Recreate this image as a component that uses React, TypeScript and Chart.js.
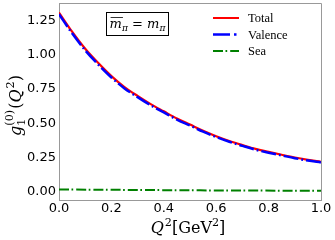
import React, { useEffect, useRef } from "react";
import { Chart, registerables } from "chart.js";

Chart.register(...registerables);

// ---- data ----
const q2 = [0, 0.05, 0.1, 0.15, 0.2, 0.25, 0.3, 0.35, 0.4, 0.45, 0.5, 0.55, 0.6, 0.65, 0.7, 0.75, 0.8, 0.85, 0.9, 0.95, 1.0];
const total = [1.31, 1.17, 1.045, 0.94, 0.845, 0.765, 0.70, 0.64, 0.587, 0.535, 0.49, 0.445, 0.405, 0.37, 0.34, 0.312, 0.29, 0.269, 0.249, 0.232, 0.217];
const valence = [1.298, 1.158, 1.034, 0.929, 0.835, 0.755, 0.691, 0.631, 0.579, 0.527, 0.483, 0.438, 0.399, 0.364, 0.334, 0.306, 0.284, 0.264, 0.244, 0.227, 0.213];
const q2Sea = [0, 0.25, 0.5, 0.75, 1.0];
const sea = [0.015, 0.012, 0.009, 0.007, 0.005];
const xTicks = [0, 0.2, 0.4, 0.6, 0.8, 1.0];
const yTicks = [0, 0.25, 0.5, 0.75, 1.0, 1.25];
const seriesLabels = ["Total", "Valence", "Sea"];
const seriesColors = ["#ff0000", "#0000ff", "#008000"];

type Part = { t: string; f: string; dy?: number; adv?: boolean; kern?: number };

function drawRich(ctx: CanvasRenderingContext2D, parts: Part[], cx: number, cy: number, rot: number) {
  ctx.save();
  ctx.translate(cx, cy);
  ctx.rotate(rot);
  ctx.textAlign = "left";
  ctx.textBaseline = "alphabetic";
  ctx.fillStyle = "#000";
  let total = 0;
  for (const p of parts) {
    ctx.font = p.f;
    if (p.adv !== false) total += ctx.measureText(p.t).width + (p.kern || 0);
  }
  let x = -total / 2;
  const starts: number[] = [];
  for (const p of parts) {
    ctx.font = p.f;
    starts.push(x);
    ctx.fillText(p.t, x, p.dy || 0);
    if (p.adv !== false) x += ctx.measureText(p.t).width + (p.kern || 0);
  }
  ctx.restore();
  return starts;
}

const SERIF = "'DejaVu Serif'";

const decorPlugin = {
  id: "decor",
  afterDraw(chart: any) {
    const ctx: CanvasRenderingContext2D = chart.ctx;
    const a = chart.chartArea;
    ctx.save();
    // top & right spines
    ctx.strokeStyle = "#999";
    ctx.lineWidth = 1;
    ctx.beginPath();
    ctx.moveTo(Math.round(a.left), Math.round(a.top) + 0.5);
    ctx.lineTo(Math.round(a.right) + 0.5, Math.round(a.top) + 0.5);
    ctx.lineTo(Math.round(a.right) + 0.5, Math.round(a.bottom));
    ctx.stroke();

    // annotation box
    ctx.fillStyle = "#fff";
    ctx.fillRect(106.5, 12.5, 62, 23);
    ctx.strokeStyle = "#000";
    ctx.strokeRect(106.5, 12.5, 62, 23);
    const s = 13;
    const annParts: Part[] = [
      { t: "m", f: `italic ${s}px ${SERIF}` },
      { t: "π", f: `italic ${s * 0.7}px ${SERIF}`, dy: 3 },
      { t: " = ", f: `${s}px ${SERIF}` },
      { t: "m", f: `italic ${s}px ${SERIF}` },
      { t: "π", f: `italic ${s * 0.7}px ${SERIF}`, dy: 3 },
    ];
    const base = 28;
    const st = drawRich(ctx, annParts, 137.5, base, 0);
    ctx.font = `italic ${s}px ${SERIF}`;
    const mw = ctx.measureText("m").width;
    ctx.strokeStyle = "#000";
    ctx.lineWidth = 0.8;
    ctx.beginPath();
    ctx.moveTo(137.5 + st[0] + 1, base - 10.5);
    ctx.lineTo(137.5 + st[0] + mw + 1, base - 10.5);
    ctx.stroke();

    // legend
    const rows = [18, 34.5, 51];
    const dashes = [[], [17, 4, 2.5, 4], [10, 2.5, 1.7, 3]];
    const widths = [2, 2.5, 2];
    for (let i = 0; i < 3; i++) {
      ctx.strokeStyle = seriesColors[i];
      ctx.lineWidth = widths[i];
      ctx.setLineDash(dashes[i]);
      ctx.beginPath();
      ctx.moveTo(213, rows[i]);
      ctx.lineTo(239, rows[i]);
      ctx.stroke();
      ctx.setLineDash([]);
      ctx.fillStyle = "#000";
      ctx.font = "12.5px 'Liberation Serif'";
      ctx.textAlign = "left";
      ctx.textBaseline = "alphabetic";
      ctx.fillText(seriesLabels[i], 248, rows[i] + 4);
    }

    // axis titles
    const ts = 16;
    const xt: Part[] = [
      { t: "Q", f: `italic ${ts}px ${SERIF}`, kern: 1 },
      { t: "2", f: `${ts * 0.7}px ${SERIF}`, dy: -7 },
      { t: "[GeV", f: `${ts}px ${SERIF}` },
      { t: "2", f: `${ts * 0.7}px ${SERIF}`, dy: -7 },
      { t: "]", f: `${ts}px ${SERIF}` },
    ];
    drawRich(ctx, xt, 188, 232.5, 0);
    const yt: Part[] = [
      { t: "g", f: `italic ${ts}px ${SERIF}` },
      { t: "1", f: `${ts * 0.7}px ${SERIF}`, dy: 4, adv: false },
      { t: "(0)", f: `${ts * 0.7}px ${SERIF}`, dy: -8, kern: 1 },
      { t: "(", f: `${ts}px ${SERIF}` },
      { t: "Q", f: `italic ${ts}px ${SERIF}`, kern: 1 },
      { t: "2", f: `${ts * 0.7}px ${SERIF}`, dy: -7 },
      { t: ")", f: `${ts}px ${SERIF}` },
    ];
    drawRich(ctx, yt, 21, 105.5, -Math.PI / 2);
    ctx.restore();
  },
};

export default function App() {
  const ref = useRef<HTMLCanvasElement | null>(null);
  useEffect(() => {
    document.body.style.margin = "0";
    const canvas = ref.current!;
    const tickFont = { family: "'DejaVu Sans'", size: 13 };
    const chart = new Chart(canvas, {
      type: "line",
      data: {
        datasets: [
          {
            label: seriesLabels[0],
            data: q2.map((x, i) => ({ x, y: total[i] })),
            borderColor: seriesColors[0],
            borderWidth: 2.2,
            pointRadius: 0,
            cubicInterpolationMode: "monotone",
            order: 2,
          },
          {
            label: seriesLabels[1],
            data: q2.map((x, i) => ({ x, y: valence[i] })),
            borderColor: seriesColors[1],
            borderWidth: 2.5,
            borderDash: [15, 3, 1.8, 3],
            pointRadius: 0,
            cubicInterpolationMode: "monotone",
            order: 1,
          },
          {
            label: seriesLabels[2],
            data: q2Sea.map((x, i) => ({ x, y: sea[i] })),
            borderColor: seriesColors[2],
            borderWidth: 2,
            borderDash: [10, 2.5, 1.7, 3],
            pointRadius: 0,
            cubicInterpolationMode: "monotone",
            order: 3,
          },
        ],
      } as any,
      options: {
        animation: false,
        responsive: false,
        devicePixelRatio: 1,
        layout: { padding: { top: 3, right: 14, left: 0, bottom: 0 } },
        plugins: { legend: { display: false }, tooltip: { enabled: false }, title: { display: false } },
        scales: {
          x: {
            type: "linear",
            min: 0,
            max: 1,
            afterBuildTicks: (s: any) => {
              s.ticks = xTicks.map((v) => ({ value: v }));
            },
            afterFit: (s: any) => {
              s.height = 40;
              s.paddingLeft = 0;
              s.paddingRight = 0;
            },
            ticks: {
              callback: (v: any) => Number(v).toFixed(1),
              font: tickFont,
              color: "#000",
              padding: 1,
              maxRotation: 0,
              autoSkip: false,
            },
            grid: { display: false, drawTicks: false },
            border: { display: true, color: "#999", width: 1 },
          },
          y: {
            type: "linear",
            min: -0.062,
            max: 1.38,
            afterBuildTicks: (s: any) => {
              s.ticks = yTicks.map((v) => ({ value: v }));
            },
            afterFit: (s: any) => {
              s.width = 59;
              s.paddingTop = 0;
              s.paddingBottom = 0;
            },
            ticks: {
              callback: (v: any) => Number(v).toFixed(2),
              font: tickFont,
              color: "#000",
              padding: 3,
              autoSkip: false,
            },
            grid: { display: false, drawTicks: false },
            border: { display: true, color: "#999", width: 1 },
          },
        },
      } as any,
      plugins: [decorPlugin],
    });
    return () => chart.destroy();
  }, []);
  return (
    <div style={{ position: "fixed", left: 0, top: 0, width: 335, height: 240, background: "#fff" }}>
      <canvas ref={ref} width={335} height={240} />
    </div>
  );
}
